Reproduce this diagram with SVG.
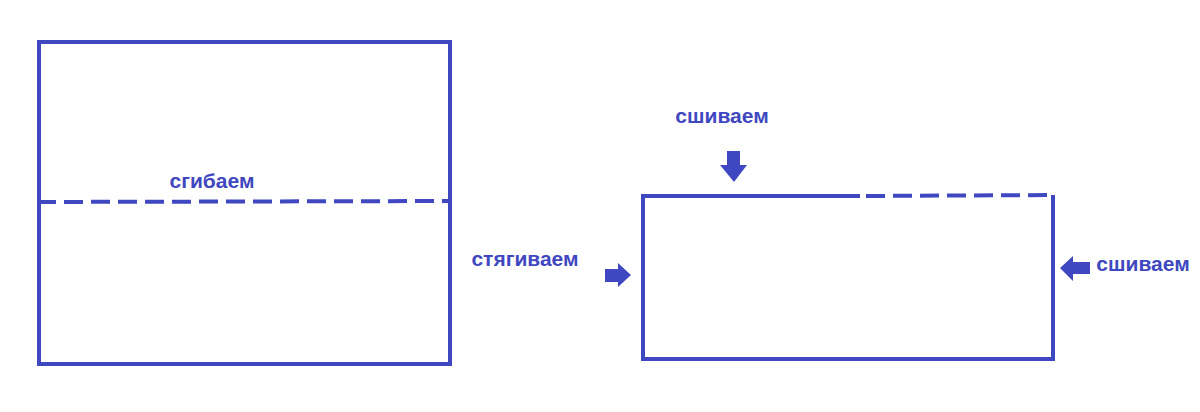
<svg xmlns="http://www.w3.org/2000/svg" width="1200" height="412" viewBox="0 0 1200 412">
<style>
.ln{fill:none;stroke:#3F48C0;stroke-width:4;}
.dash{stroke-dasharray:19 8;}
.lbl{font-family:"Liberation Sans",Arial,sans-serif;font-weight:bold;font-size:21px;fill:#3F48C0;}
.arr{fill:#3F48C0;}
</style>
<rect width="1200" height="412" fill="#FFFFFF"/>
<g id="sheet">
<rect class="ln" x="39" y="42" width="411" height="322"/>
<line class="ln dash" x1="37" y1="202" x2="450" y2="201"/>
<text class="lbl" x="212" y="188" text-anchor="middle">сгибаем</text>
</g>
<g id="folded">
<path class="ln" d="M860,196 L643,196 L643,359 L1053,359 L1053,195"/>
<line class="ln dash" x1="866" y1="196" x2="1053" y2="195"/>
</g>
<g id="connectors">
<path id="arrow-top" class="arr" d="M727,151 L740,151 L740,165 L747,165 L734,182 L720,165 L727,165 Z"/>
<path id="arrow-left" class="arr" d="M605,269 L618,269 L618,263 L631,275 L618,287 L618,282 L605,282 Z"/>
<path id="arrow-right" class="arr" d="M1090,262 L1073,262 L1073,256 L1060,268 L1073,281 L1073,274 L1090,274 Z"/>
</g>
<g id="labels">
<text class="lbl" x="722" y="123" text-anchor="middle">сшиваем</text>
<text class="lbl" x="525" y="266" text-anchor="middle">стягиваем</text>
<text class="lbl" x="1143" y="271" text-anchor="middle">сшиваем</text>
</g>
</svg>
